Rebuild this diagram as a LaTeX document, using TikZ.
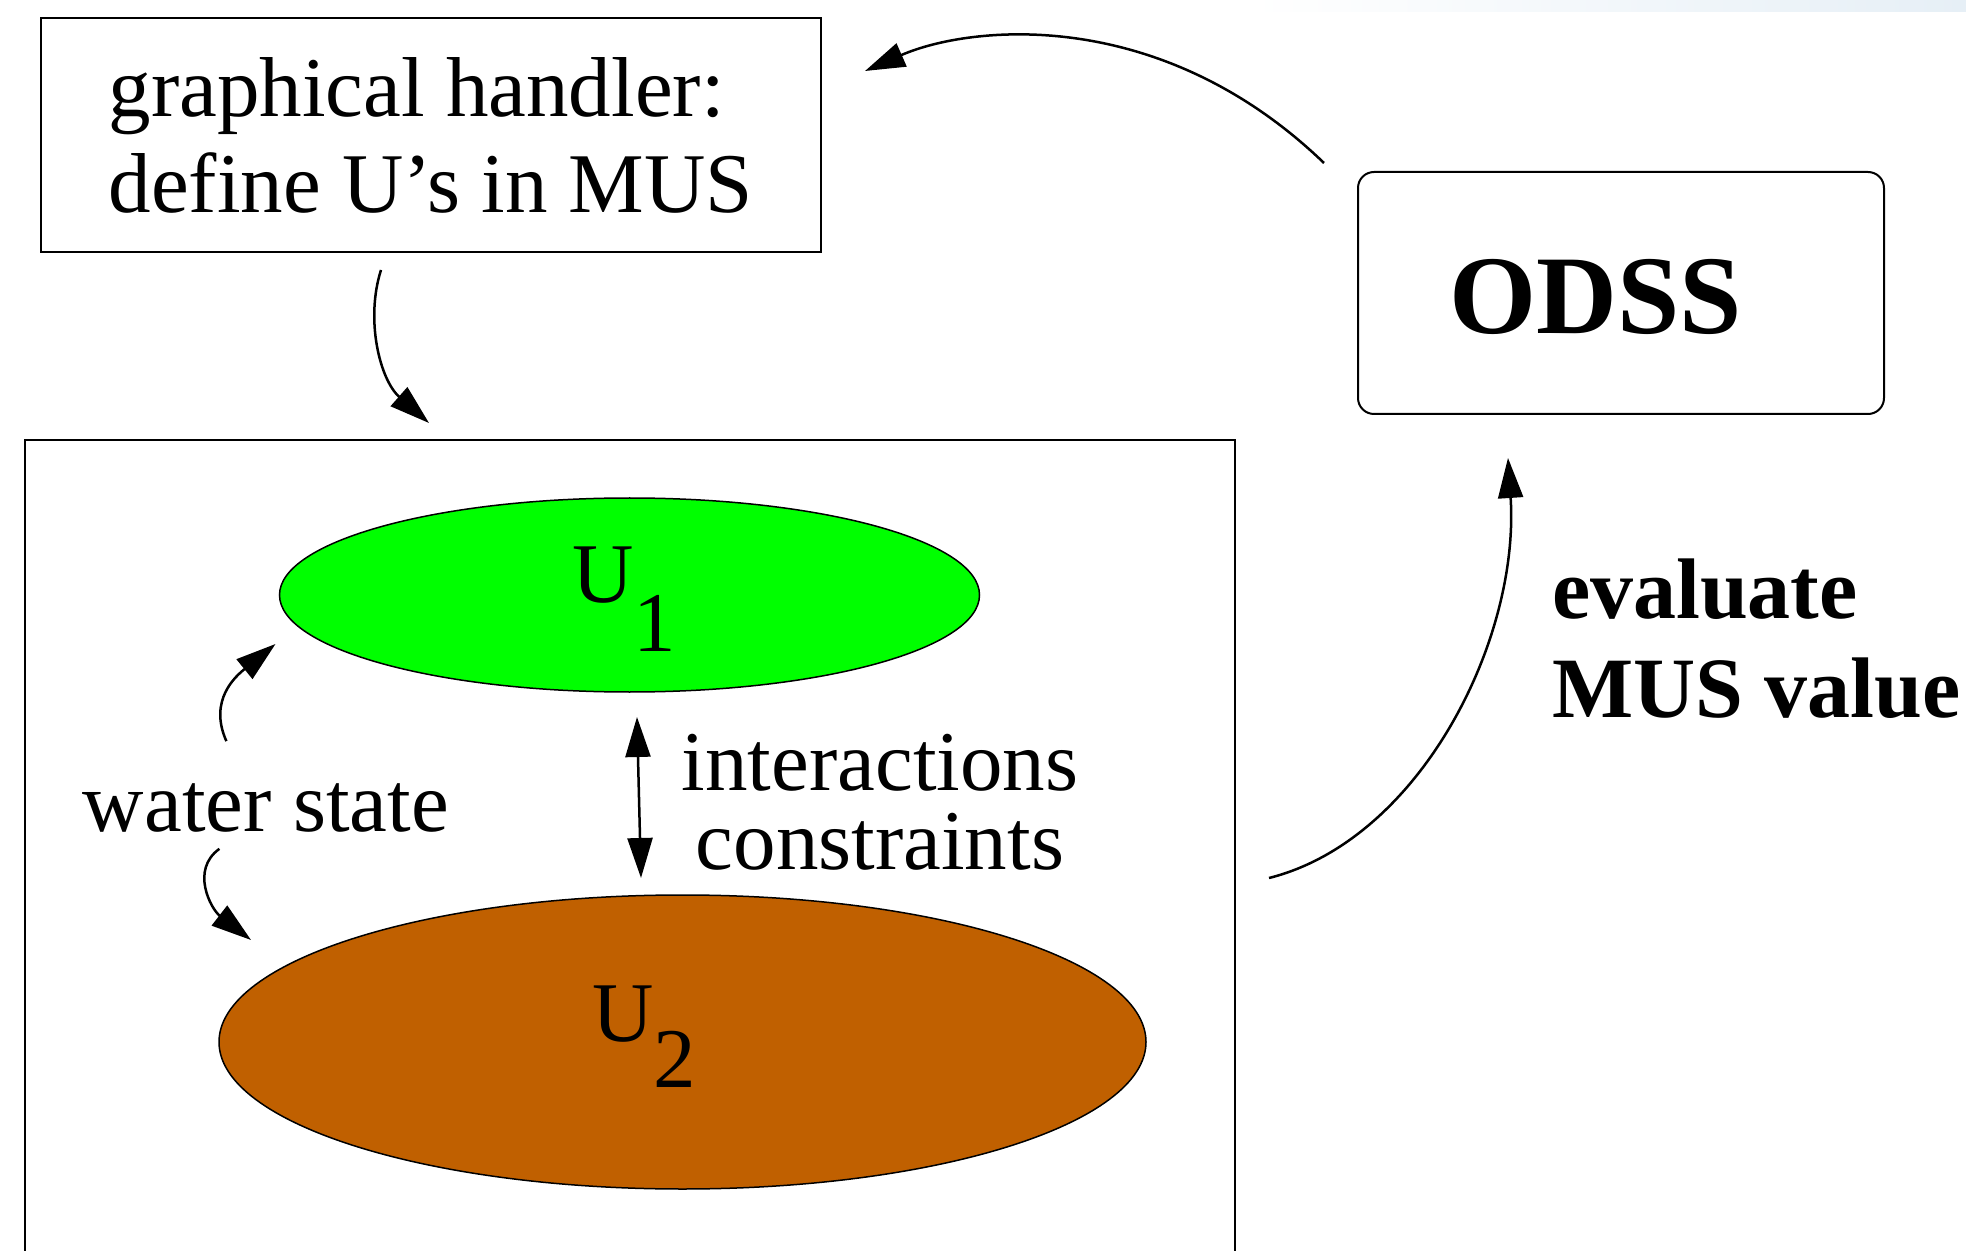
\documentclass[tikz,border=0pt]{standalone}
\usepackage{fontspec}
\setmainfont{Liberation Serif}
\usetikzlibrary{arrows.meta,shapes.geometric,calc}
\definecolor{ugreen}{RGB}{0,255,0}
\definecolor{ubrown}{RGB}{192,96,0}
\definecolor{stripcol}{RGB}{230,239,246}
\begin{document}
\begin{tikzpicture}[x=0.5pt,y=-0.5pt,
  every node/.style={inner sep=0pt, outer sep=0pt},
  conn/.style={line width=1.25pt, -{Triangle[length=20pt,width=12.5pt]}},
  dconn/.style={line width=1.25pt, {Triangle[length=20pt,width=12.5pt]}-{Triangle[length=20pt,width=12.5pt]}},
  boxed/.style={draw, line width=1pt},
  blob/.style={ellipse, draw, line width=0.75pt},
  lab/.style={font=\fontsize{42.5pt}{48pt}\selectfont},
  blab/.style={font=\fontsize{43pt}{49.5pt}\selectfont\bfseries}]
\useasboundingbox (0,0) rectangle (1966,1251);
\shade[left color=white, right color=stripcol] (1250,0) rectangle (1966,12);

% boxes
\node[boxed, lab, align=left, minimum width=390pt, minimum height=117pt] (handler) at (431,135) {graphical handler:\\define U's in MUS};
\node[boxed, minimum width=605pt, minimum height=450pt] (mus) at (630,890) {};
\node[boxed, rounded corners=8pt, minimum width=263pt, minimum height=121pt] (odss) at (1621,293) {};
\node[font=\fontsize{56pt}{60pt}\selectfont\bfseries, anchor=base] (odsslab) at (1596,334) {ODSS};

% ellipses
\node[blob, fill=ugreen, minimum width=350pt, minimum height=97pt] (u1) at (629.5,595) {};
\node[blob, fill=ubrown, minimum width=463.5pt, minimum height=147pt] (u2) at (682.5,1042) {};
\node[lab, anchor=base west] (u1lab) at (572,603) {U\raisebox{-24.5pt}{1}};
\node[lab, anchor=base west] (u2lab) at (592,1041) {U\raisebox{-23pt}{2}};

% labels
\node[font=\fontsize{42.5pt}{39.5pt}\selectfont, align=center] (inter) at (880,802) {interactions\\constraints};
\node[lab, anchor=base west] (water) at (83,831) {water state};
\node[blab, align=left, anchor=west] (eval) at (1552,638.5) {evaluate\\MUS value};

% connectors
\draw[conn] ([shift={(-34,-9)}]odss.north west) .. controls (1160,5) and (970,25) .. ([shift={(44,53)}]handler.north east);
\draw[conn] ([shift={(-50,18)}]handler.south) .. controls (365,320) and (380,380) .. ([shift={(-201,-17)}]mus.north);
\draw[conn] ([shift={(34,-12)}]mus.east) .. controls (1420,840) and (1520,640) .. ([shift={(-113,44)}]odss.south);
\draw[dconn] ([shift={(7.5,25)}]u1.south) -- ([shift={(-41.5,-17)}]u2.north);
\draw[conn] ([shift={(-39.5,-42)}]water.north) .. controls (208,700) and (236,676) .. ([shift={(-4,49)}]u1.west);
\draw[conn] ([shift={(-46.5,17)}]water.south) .. controls (190,870) and (211,909) .. ([shift={(32,-102)}]u2.west);
\end{tikzpicture}
\end{document}
